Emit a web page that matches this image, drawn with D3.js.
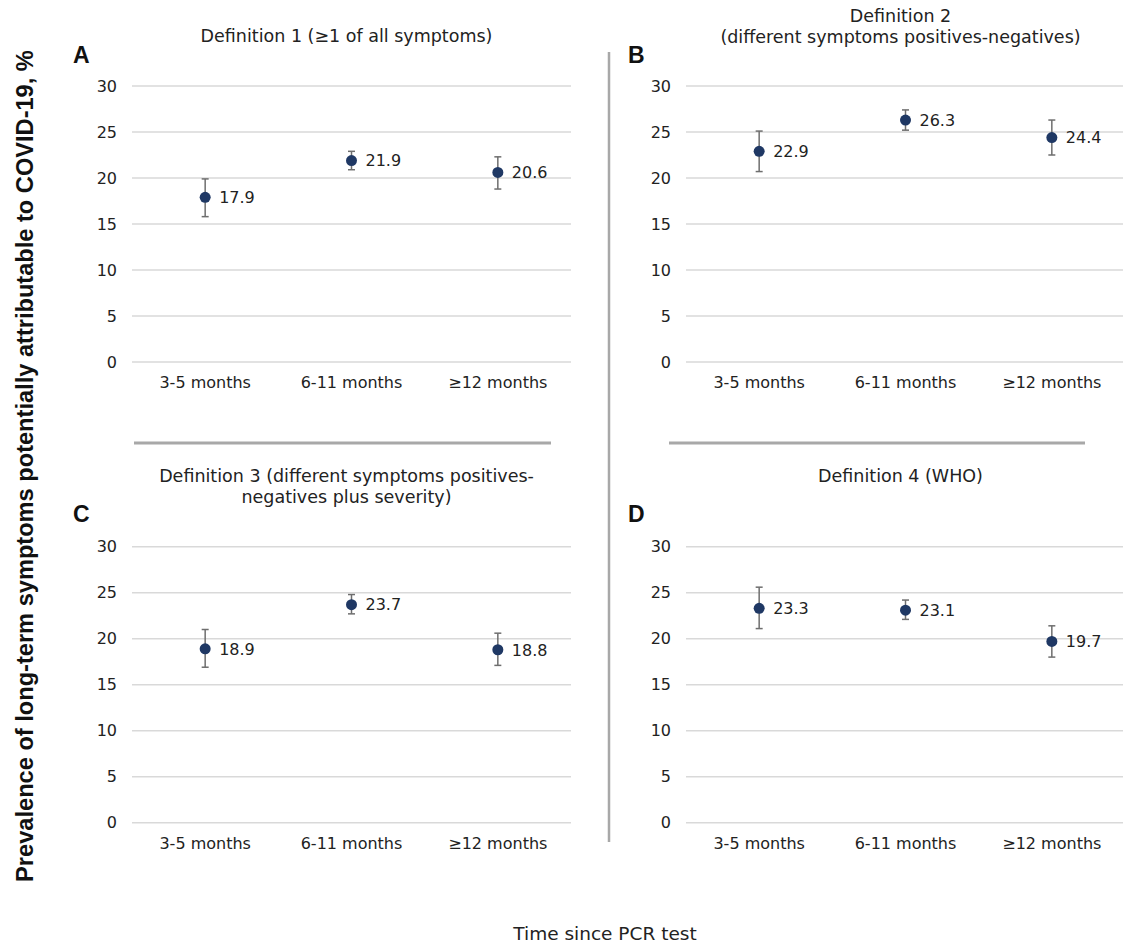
<!DOCTYPE html>
<html>
<head>
<meta charset="utf-8">
<script src="https://cdn.jsdelivr.net/npm/d3@7"></script>
<style>
  body { margin: 0; background: #fff; }
  svg { display: block; }
</style>
</head>
<body>
<svg id="chart" width="1123" height="944"></svg>
<script>
/** Categories on the x axis (same for every panel) */
var categories = ["3-5 months", "6-11 months", "≥12 months"];

/** Panel letters and titles (titles may have two lines) */
var panelLetters = ["A", "B", "C", "D"];
var panelTitles = [
  ["Definition 1 (≥1 of all symptoms)"],
  ["Definition 2", "(different symptoms positives-negatives)"],
  ["Definition 3 (different symptoms positives-", "negatives plus severity)"],
  ["Definition 4 (WHO)"]
];

/** Point estimates and 95% CI per panel */
var estimates = [
  [17.9, 21.9, 20.6],
  [22.9, 26.3, 24.4],
  [18.9, 23.7, 18.8],
  [23.3, 23.1, 19.7]
];
var lowerCI = [
  [15.8, 20.9, 18.8],
  [20.7, 25.2, 22.5],
  [16.9, 22.7, 17.1],
  [21.1, 22.1, 18.0]
];
var upperCI = [
  [19.9, 22.9, 22.3],
  [25.1, 27.4, 26.3],
  [21.0, 24.8, 20.6],
  [25.6, 24.2, 21.4]
];

/** Y tick values */
var yTicks = [0, 5, 10, 15, 20, 25, 30];

/** Layout of each panel's plot area */
var plotWidth = 439,
    plotHeight = 276,
    panelLeft = [132, 686],
    panelTop = [86, 546.7];

var dotColor = "#1f3864",
    errColor = "#6e6e6e",
    gridColor = "#d9d9d9",
    dividerColor = "#a8a8a8",
    textColor = "#222";

var tickFont = "'DejaVu Sans', Verdana, sans-serif";

var svg = d3.select("#chart");

panelLetters.forEach(function (letter, p) {
  var col = p % 2, row = Math.floor(p / 2);
  var x0 = panelLeft[col], y0 = panelTop[row];

  var x = d3.scaleBand()
    .domain(categories)
    .range([x0, x0 + plotWidth]);

  var y = d3.scaleLinear()
    .domain([0, 30])
    .range([y0 + plotHeight, y0]);

  var g = svg.append("g").attr("class", "panel");

  // gridlines
  g.selectAll(".grid")
    .data(yTicks).enter().append("line")
    .attr("x1", x0).attr("x2", x0 + plotWidth)
    .attr("y1", function (d) { return y(d); })
    .attr("y2", function (d) { return y(d); })
    .attr("stroke", gridColor)
    .attr("stroke-width", 1.5);

  // y axis labels via d3 axis, domain line and ticks hidden
  var yAxis = d3.axisLeft(y).tickValues(yTicks).tickSize(0).tickPadding(15);
  var ya = g.append("g")
    .attr("transform", "translate(" + x0 + ",0)")
    .call(yAxis);
  ya.select(".domain").remove();
  ya.selectAll("text")
    .attr("font-family", tickFont)
    .attr("font-size", "16px")
    .attr("fill", textColor);

  // x axis labels
  var xAxis = d3.axisBottom(x).tickSize(0).tickPadding(15);
  var xa = g.append("g")
    .attr("transform", "translate(0," + (y0 + plotHeight) + ")")
    .call(xAxis);
  xa.select(".domain").remove();
  xa.selectAll("text")
    .attr("font-family", tickFont)
    .attr("font-size", "16px")
    .attr("fill", textColor);

  var pts = categories.map(function (c, i) {
    return { cat: c, est: estimates[p][i], lo: lowerCI[p][i], hi: upperCI[p][i] };
  });
  var cx = function (d) { return x(d.cat) + x.bandwidth() / 2; };

  // error bars
  g.selectAll(".err")
    .data(pts).enter().append("line")
    .attr("x1", cx).attr("x2", cx)
    .attr("y1", function (d) { return y(d.lo); })
    .attr("y2", function (d) { return y(d.hi); })
    .attr("stroke", errColor).attr("stroke-width", 1.5);

  ["lo", "hi"].forEach(function (k) {
    g.selectAll(".cap-" + k)
      .data(pts).enter().append("line")
      .attr("x1", function (d) { return cx(d) - 3.5; })
      .attr("x2", function (d) { return cx(d) + 3.5; })
      .attr("y1", function (d) { return y(d[k]); })
      .attr("y2", function (d) { return y(d[k]); })
      .attr("stroke", errColor).attr("stroke-width", 1.5);
  });

  // points
  g.selectAll(".dot")
    .data(pts).enter().append("circle")
    .attr("cx", cx)
    .attr("cy", function (d) { return y(d.est); })
    .attr("r", 5.5)
    .attr("fill", dotColor);

  // value labels
  g.selectAll(".val")
    .data(pts).enter().append("text")
    .attr("x", function (d) { return cx(d) + 14; })
    .attr("y", function (d) { return y(d.est); })
    .attr("dy", "0.36em")
    .attr("font-family", tickFont)
    .attr("font-size", "16px")
    .attr("fill", textColor)
    .text(function (d) { return d.est.toFixed(1); });

  // panel title
  var titleLines = panelTitles[p];
  var titleBase = row === 0 ? (titleLines.length > 1 ? 22 : 42) : 482;
  g.append("text")
    .attr("x", x0 + plotWidth / 2 - 5)
    .attr("y", titleBase)
    .attr("text-anchor", "middle")
    .attr("font-family", tickFont)
    .attr("font-size", "17.5px")
    .attr("fill", textColor)
    .selectAll("tspan")
    .data(titleLines).enter().append("tspan")
    .attr("x", x0 + plotWidth / 2 - 5)
    .attr("dy", function (d, i) { return i === 0 ? 0 : 21; })
    .text(function (d) { return d; });

  // panel letter
  g.append("text")
    .attr("x", col === 0 ? 73 : 628)
    .attr("y", row === 0 ? 63 : 522)
    .attr("font-family", "'Liberation Sans', Arial, sans-serif")
    .attr("font-weight", "bold")
    .attr("font-size", "23px")
    .attr("fill", "#111")
    .text(letter);
});

// dividers between panels
svg.append("line")
  .attr("x1", 609).attr("x2", 609).attr("y1", 52).attr("y2", 842)
  .attr("stroke", dividerColor).attr("stroke-width", 2.5);
svg.append("line")
  .attr("x1", 134).attr("x2", 551).attr("y1", 443).attr("y2", 443)
  .attr("stroke", dividerColor).attr("stroke-width", 3);
svg.append("line")
  .attr("x1", 669).attr("x2", 1085).attr("y1", 443).attr("y2", 443)
  .attr("stroke", dividerColor).attr("stroke-width", 3);

// x axis title
svg.append("text")
  .attr("x", 605).attr("y", 940)
  .attr("text-anchor", "middle")
  .attr("font-family", tickFont)
  .attr("font-size", "18.5px")
  .attr("fill", textColor)
  .text("Time since PCR test");

// y axis title, sized to span the figure height
var yTitle = svg.append("text")
  .attr("transform", "translate(33,466) rotate(-90)")
  .attr("text-anchor", "middle")
  .attr("font-family", "'Liberation Sans Narrow', 'Liberation Sans', Arial, sans-serif")
  .attr("font-weight", "bold")
  .attr("font-size", "24px")
  .attr("fill", "#111")
  .text("Prevalence of long-term symptoms potentially attributable to COVID-19, %");
var len = yTitle.node().getComputedTextLength();
yTitle.attr("font-size", (24 * 832 / len).toFixed(2) + "px");
</script>
</body>
</html>
